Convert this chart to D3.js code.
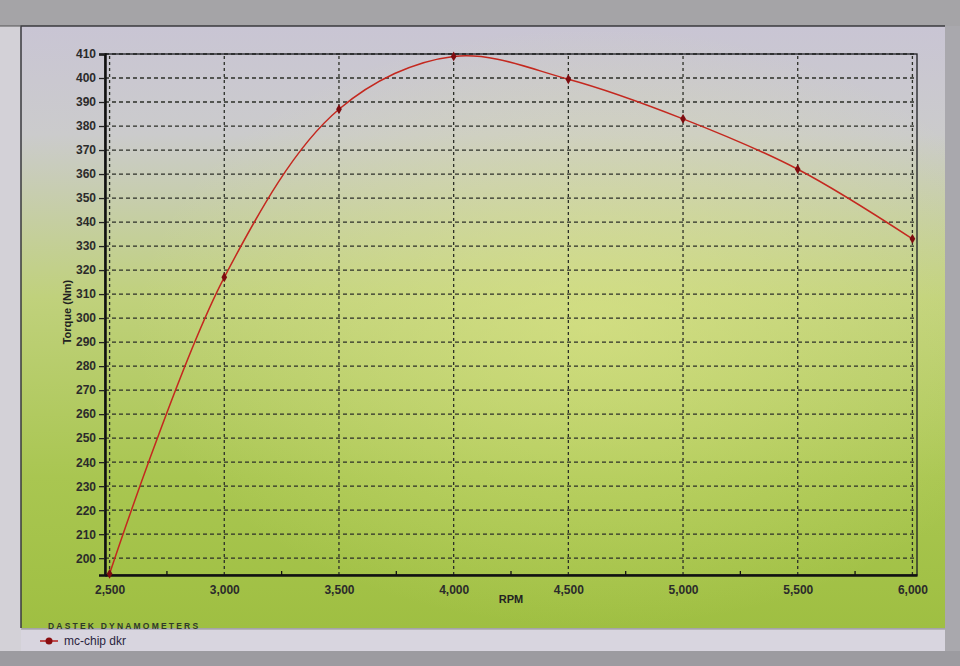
<!DOCTYPE html>
<html><head><meta charset="utf-8">
<script src="https://cdn.jsdelivr.net/npm/d3@7"></script>
<style>html,body{margin:0;padding:0;background:#b9b8bc;overflow:hidden}</style>
</head><body>
<svg id="c" width="960" height="666"></svg>
<script>
// ---- data ----
const rpm    = [2500, 3000, 3500, 4000, 4500, 5000, 5500, 6000];
const torque = [193.5, 317, 387, 409, 399.5, 383, 362, 333];
const xTicks = [2500, 3000, 3500, 4000, 4500, 5000, 5500, 6000];
const yTicks = d3.range(200, 411, 10);
const seriesName = "mc-chip dkr";

const svg = d3.select("#c");
const defs = svg.append("defs");

const bg = defs.append("linearGradient").attr("id","bg").attr("x1",0).attr("y1",0).attr("x2",0).attr("y2",1);
bg.append("stop").attr("offset","0%").attr("stop-color","#c9c5d4");
bg.append("stop").attr("offset","18%").attr("stop-color","#cbcbcc");
bg.append("stop").attr("offset","45%").attr("stop-color","#c0d17c");
bg.append("stop").attr("offset","75%").attr("stop-color","#a9c651");
bg.append("stop").attr("offset","100%").attr("stop-color","#9fbf42");

const hl = defs.append("radialGradient").attr("id","hl").attr("cx","0.62").attr("cy","0.5").attr("r","0.5");
hl.append("stop").attr("offset","0%").attr("stop-color","#e4ea8c").attr("stop-opacity",0.5);
hl.append("stop").attr("offset","100%").attr("stop-color","#e4ea8c").attr("stop-opacity",0);

// screen chrome
svg.append("rect").attr("x",0).attr("y",0).attr("width",960).attr("height",26).attr("fill","#a5a4a7");
svg.append("rect").attr("x",0).attr("y",26).attr("width",22).attr("height",626).attr("fill","#d3d1d7");
svg.append("line").attr("x1",0).attr("x2",20).attr("y1",26).attr("y2",26).attr("stroke","#555").attr("stroke-width",1);
svg.append("rect").attr("x",945).attr("y",26).attr("width",15).attr("height",640).attr("fill","#a9a8ad");
svg.append("rect").attr("x",0).attr("y",651).attr("width",960).attr("height",15).attr("fill","#9c9ba0");

// chart frame
svg.append("rect").attr("x",21).attr("y",26).attr("width",924).attr("height",602).attr("fill","url(#bg)");
svg.append("rect").attr("x",21).attr("y",26).attr("width",924).attr("height",602).attr("fill","url(#hl)");
svg.append("path").attr("d","M21,628 V26 H945").attr("fill","none").attr("stroke","#3a3a3e").attr("stroke-width",1.5);

// legend strip
svg.append("rect").attr("x",21).attr("y",629).attr("width",924).attr("height",22).attr("fill","#d8d5df");
svg.append("line").attr("x1",21).attr("x2",945).attr("y1",629).attr("y2",629).attr("stroke","#8f8e94");
svg.append("line").attr("x1",40).attr("x2",58).attr("y1",641).attr("y2",641).attr("stroke","#b51c1c").attr("stroke-width",1.5);
svg.append("circle").attr("cx",49).attr("cy",641).attr("r",3.5).attr("fill","#8a0d10");
svg.append("text").attr("x",64).attr("y",645).attr("font-family","Liberation Sans, Arial, sans-serif")
   .attr("font-size",12).attr("fill","#2a2440").text(seriesName);

// scales
const x = d3.scaleLinear().domain([2480, 6020]).range([105, 917]);
const y = d3.scaleLinear().domain([193, 410]).range([575, 54]);

const g = svg.append("g");

// grid
g.append("g").selectAll("line").data(yTicks).join("line")
  .attr("x1", x.range()[0]).attr("x2", x.range()[1])
  .attr("y1", d => y(d)).attr("y2", d => y(d))
  .attr("stroke","#2c2f28").attr("stroke-width",1.3).attr("stroke-dasharray","4,3");
g.append("g").selectAll("line").data(xTicks).join("line")
  .attr("x1", d => x(d)).attr("x2", d => x(d))
  .attr("y1", y.range()[0]).attr("y2", y.range()[1])
  .attr("stroke","#2c2f28").attr("stroke-width",1.3).attr("stroke-dasharray","3,3");

// plot border
g.append("rect").attr("x",x.range()[0]).attr("y",y.range()[1])
  .attr("width",x.range()[1]-x.range()[0]).attr("height",y.range()[0]-y.range()[1])
  .attr("fill","none").attr("stroke","#1e1f22").attr("stroke-width",1.3);

// axes
const font = "Liberation Sans, Arial, sans-serif";
const xAxis = g.append("g").attr("transform",`translate(0,${y.range()[0]})`)
  .call(d3.axisBottom(x).tickValues(xTicks).tickFormat(d3.format(",")).tickSize(0).tickPadding(10));
xAxis.select(".domain").attr("stroke","#111").attr("stroke-width",2.5);
xAxis.selectAll("text").attr("font-family",font).attr("font-size",12).attr("font-weight","bold").attr("fill","#2b2b2b");
// minor ticks (inside)
g.append("g").selectAll("line").data(d3.range(2750, 6000, 500)).join("line")
  .attr("x1", d => x(d)).attr("x2", d => x(d))
  .attr("y1", y.range()[0]).attr("y2", y.range()[0]-4).attr("stroke","#111").attr("stroke-width",1.3);

const yAxis = g.append("g").attr("transform",`translate(${x.range()[0]},0)`)
  .call(d3.axisLeft(y).tickValues(yTicks).tickSize(6).tickPadding(3));
yAxis.select(".domain").attr("stroke","#111").attr("stroke-width",2.5);
yAxis.selectAll(".tick line").attr("stroke","#222").attr("stroke-width",1.3);
yAxis.selectAll("text").attr("font-family",font).attr("font-size",12).attr("font-weight","bold").attr("fill","#2b2b2b");

// titles
svg.append("text").attr("x",(x.range()[0]+x.range()[1])/2).attr("y",603).attr("text-anchor","middle")
  .attr("font-family",font).attr("font-size",11).attr("font-weight","bold").attr("fill","#222").text("RPM");
svg.append("text").attr("transform","translate(71,312) rotate(-90)").attr("text-anchor","middle")
  .attr("font-family",font).attr("font-size",11).attr("font-weight","bold").attr("fill","#222").text("Torque (Nm)");
svg.append("text").attr("x",48).attr("y",629).attr("font-family",font).attr("font-size",8.5)
  .attr("font-weight","bold").attr("letter-spacing","2.2").attr("fill","#2f3a2a").text("DASTEK DYNAMOMETERS");

// series
const data = rpm.map((r,i) => ({r, t: torque[i]}));
g.append("path").datum(data)
  .attr("d", d3.line().x(d => x(d.r)).y(d => y(d.t)).curve(d3.curveCatmullRom.alpha(0.5)))
  .attr("fill","none").attr("stroke","#c4281f").attr("stroke-width",1.5);
g.append("g").selectAll("path").data(data).join("path")
  .attr("transform", d => `translate(${x(d.r)},${y(d.t)})`)
  .attr("d", d3.symbol(d3.symbolDiamond, 28))
  .attr("fill","#7e0c10");
</script>
</body></html>
